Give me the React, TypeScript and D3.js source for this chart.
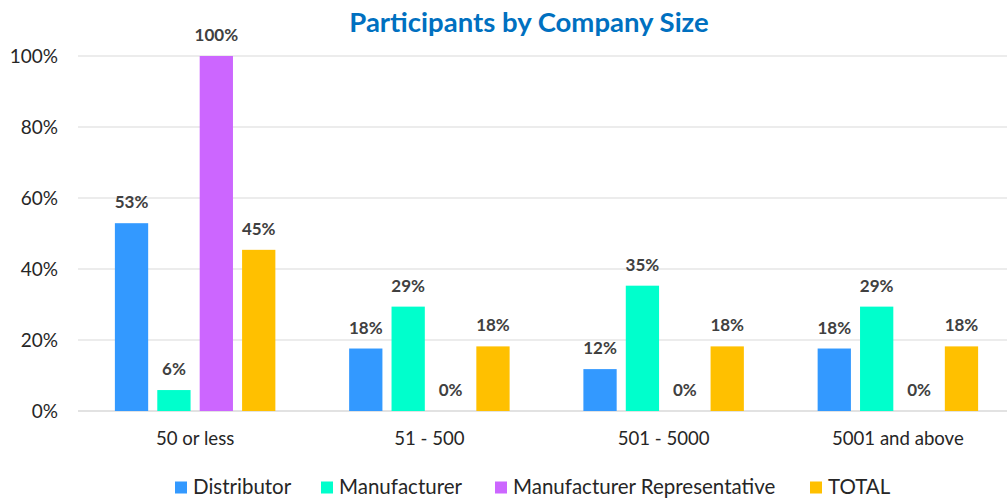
import React from "react";
import * as d3 from "d3";

const categories = ["50 or less", "51 - 500", "501 - 5000", "5001 and above"];
const seriesNames = ["Distributor", "Manufacturer", "Manufacturer Representative", "TOTAL"];
const distributor = [52.9, 17.6, 11.8, 17.6];
const manufacturer = [5.9, 29.4, 35.3, 29.4];
const manufacturerRep = [100, 0, 0, 0];
const total = [45.4, 18.2, 18.2, 18.2];
const yTicks = [0, 20, 40, 60, 80, 100];
const colors = ["#3399FF", "#00FFCC", "#CC66FF", "#FFC000"];
const title = "Participants by Company Size";

const seriesValues = [distributor, manufacturer, manufacturerRep, total];

const W = 1007;
const H = 498;
const FONT = "Lato, 'Open Sans', sans-serif";

export default function App() {
  const x0 = d3.scaleBand<string>().domain(categories).range([78, 1015]);
  const x1 = d3
    .scaleBand<string>()
    .domain(seriesNames)
    .range([0, x0.bandwidth()])
    .paddingInner(0.215)
    .paddingOuter(0.87);
  const y = d3.scaleLinear().domain([0, 100]).range([411, 56]);
  const fmt = (v: number) => `${Math.round(v)}%`;

  const legendX = [175, 321, 495, 810];

  return (
    <svg
      width={W}
      height={H}
      style={{ position: "fixed", left: 0, top: 0, background: "#fff" }}
      fontFamily={FONT}
    >
      <rect x={0} y={0} width={W} height={H} fill="#fff" />
      <text x={529} y={32} textAnchor="middle" fontSize={27.5} fontWeight={700} fill="#0070C0">
        {title}
      </text>
      {yTicks.map((t) => (
        <g key={t}>
          <line x1={78} x2={1015} y1={y(t)} y2={y(t)} stroke="#D9D9D9" strokeWidth={t === 0 ? 1.5 : 1} />
          <text x={58} y={y(t) + 6.5} textAnchor="end" fontSize={19} fill="#262626">
            {`${t}%`}
          </text>
        </g>
      ))}
      {categories.map((c, ci) => (
        <g key={c} transform={`translate(${x0(c)},0)`}>
          {seriesNames.map((s, si) => {
            const v = seriesValues[si][ci];
            const bx = x1(s)!;
            return (
              <g key={s}>
                <rect x={bx} y={y(v)} width={x1.bandwidth()} height={y(0) - y(v)} fill={colors[si]} />
                <text
                  x={bx + x1.bandwidth() / 2}
                  y={y(v) - 15}
                  textAnchor="middle"
                  fontSize={17}
                  fontWeight={700}
                  fill="#404040"
                >
                  {fmt(v)}
                </text>
              </g>
            );
          })}
          <text x={x0.bandwidth() / 2} y={445} textAnchor="middle" fontSize={18.6} fill="#262626">
            {c}
          </text>
        </g>
      ))}
      {seriesNames.map((s, si) => (
        <g key={s}>
          <rect x={legendX[si]} y={481.5} width={12} height={12} fill={colors[si]} />
          <text x={legendX[si] + 18} y={494} fontSize={20.5} fill="#262626">
            {s}
          </text>
        </g>
      ))}
    </svg>
  );
}
